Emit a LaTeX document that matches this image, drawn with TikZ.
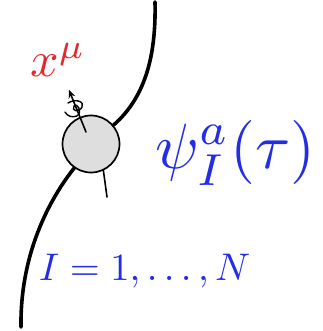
\documentclass[tikz,border=0pt]{standalone}
\usepackage{graphicx}
\usetikzlibrary{arrows.meta}
\definecolor{lblred}{RGB}{228,40,45}
\definecolor{lblblue}{RGB}{35,45,228}
\definecolor{blobgray}{RGB}{222,222,222}
\tikzset{
  world/.style={line width=3.6pt,line cap=round},
  thin/.style={line width=1.6pt,line cap=round},
  lbl/.style={inner sep=0pt,anchor=base west}
}
\begin{document}
\begin{tikzpicture}[x=1pt,y=-1pt]
\useasboundingbox (0,0) rectangle (322,331);
\node[circle,draw,fill=blobgray,line width=1.7pt,minimum size=57pt,inner sep=0pt] (blob) at (91,144) {};
\coordinate (top) at (155,2);
\coordinate (bot) at (21,327);
\draw[world] (top) .. controls (156,50) and (148,95) .. (blob.40);
\draw[world] (blob.235) .. controls (45,205) and (20,260) .. (bot);
\coordinate (tail) at (107,197);
\draw[thin] (blob.295) -- (tail);
\coordinate (arrtip) at (69,90);
\draw[thin,-{Stealth[length=8pt,width=7pt]}] (86,132) -- (arrtip);
\draw[line width=1.4pt,line cap=round] (68,103) .. controls (76,98) and (85,102) .. (82,107) .. controls (79,113) and (71,111) .. (74,106) .. controls (77,102) and (83,112) .. (77,116) .. controls (72,118) and (67,116) .. (65,112);
\node[lbl,text=lblred] (x) at (30,77) {\scalebox{5.0}{$x^\mu$}};
\node[lbl,text=lblblue] (psi) at (155,168) {\scalebox{6.4}{$\psi_I^a(\tau)$}};
\node[lbl,text=lblblue] (range) at (39,280) {\scalebox{3.85}{$I=1,\ldots,N$}};
\end{tikzpicture}
\end{document}
